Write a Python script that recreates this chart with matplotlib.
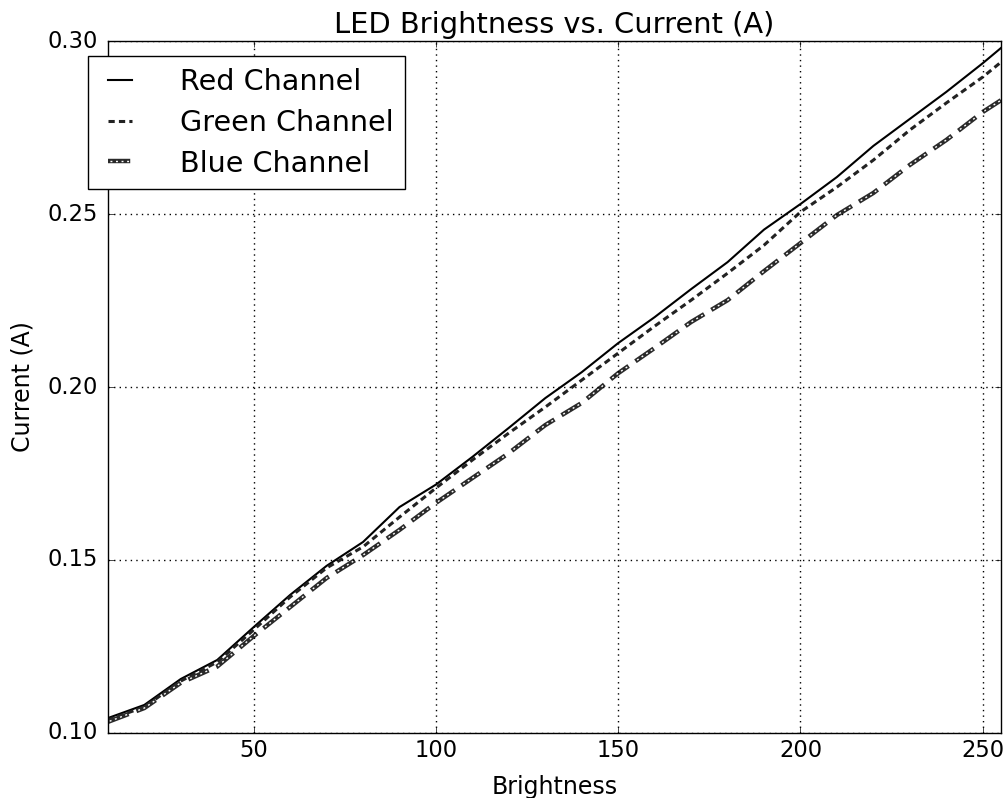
import matplotlib
matplotlib.use("Agg")
import matplotlib.pyplot as plt

brightness = [10, 20, 30, 40, 50, 60, 70, 80, 90, 100, 110, 120, 130, 140, 150,
              160, 170, 180, 190, 200, 210, 220, 230, 240, 250, 255]
red_current = [0.1043, 0.1081, 0.1156, 0.1211, 0.1306, 0.1399, 0.1483, 0.1552, 0.1653, 0.1718,
               0.1798, 0.1882, 0.1968, 0.2043, 0.2127, 0.2202, 0.2283, 0.2361, 0.2455, 0.2529,
               0.2607, 0.2697, 0.2775, 0.2853, 0.2936, 0.2980]
green_current = [0.1038, 0.1075, 0.1150, 0.1205, 0.1298, 0.1393, 0.1477, 0.1538, 0.1624, 0.1708,
                 0.1789, 0.1867, 0.1942, 0.2020, 0.2098, 0.2176, 0.2251, 0.2329, 0.2410, 0.2506,
                 0.2578, 0.2656, 0.2743, 0.2821, 0.2896, 0.2939]
blue_current = [0.1032, 0.1072, 0.1145, 0.1192, 0.1280, 0.1364, 0.1448, 0.1514, 0.1587, 0.1665,
                0.1737, 0.1809, 0.1890, 0.1954, 0.2040, 0.2113, 0.2188, 0.2251, 0.2335, 0.2416,
                0.2497, 0.2561, 0.2642, 0.2714, 0.2795, 0.2829]
labels = ["Red Channel", "Green Channel", "Blue Channel"]

plt.style.use("classic")
plt.rcParams["lines.scale_dashes"] = False
fig = plt.figure(figsize=(10.08, 7.98), dpi=100, facecolor="white")
ax = fig.add_axes([0.107, 0.0815, 0.886, 0.867])

l_red, = ax.plot(brightness, red_current, color="black", lw=1.5, ls="-")
l_green, = ax.plot(brightness, green_current, color="#222222", lw=2.2, ls=(0, (4.5, 3)))
l_blue_d, = ax.plot(brightness, blue_current, color="#2a2a2a", lw=3.2, ls=(0, (16, 6)),
                    solid_capstyle="butt", dash_capstyle="butt")
l_blue_w, = ax.plot(brightness, blue_current, color="white", lw=1.0,
                    ls=(20.6, (1.4, 2.6, 1.4, 2.6, 1.4, 2.6, 1.4, 8.6)))

ax.set_xlim(10, 255)
ax.set_ylim(0.10, 0.30)
ax.set_xticks([50, 100, 150, 200, 250])
ax.set_yticks([0.10, 0.15, 0.20, 0.25, 0.30])
ax.set_yticklabels(["0.10", "0.15", "0.20", "0.25", "0.30"])
ax.tick_params(labelsize=16.3)
ax.tick_params(axis="y", pad=7)
ax.grid(True, color="black", ls=":", lw=1)
ax.set_xlabel("Brightness", fontsize=17, labelpad=10)
ax.set_ylabel("Current (A)", fontsize=17, labelpad=9.5)
ax.set_title("LED Brightness vs. Current (A)", fontsize=20.8, pad=6)

ax.legend([l_red, l_green, (l_blue_d, l_blue_w)], labels, loc="upper left",
          bbox_to_anchor=(-0.0224, 0.978), borderaxespad=0, fontsize=20.6,
          handlelength=1.45, handletextpad=1.38, labelspacing=0.45,
          fancybox=False, framealpha=1)

fig.savefig("out.png", dpi=100)
